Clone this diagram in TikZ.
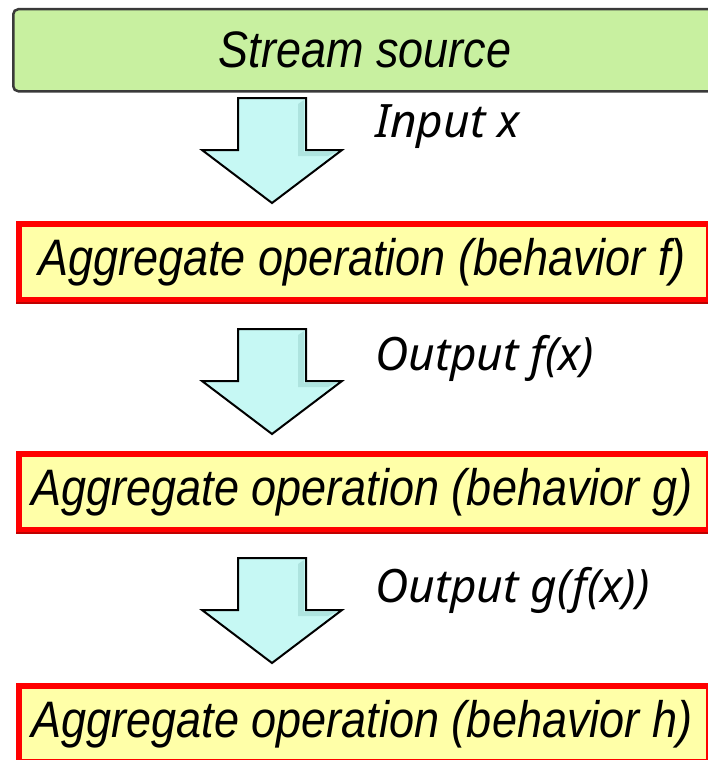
\documentclass[tikz,border=0pt]{standalone}
\usepackage{fontspec}
\setmainfont{Liberation Sans}
\newfontfamily\labelfont{Noto Sans}
\definecolor{srcgreen}{HTML}{C8F0A0}
\definecolor{srcedge}{HTML}{3A3A3A}
\definecolor{opyellow}{HTML}{FFFFA8}
\definecolor{opred}{HTML}{FF0000}
\definecolor{opdark}{HTML}{C00000}
\definecolor{arrowfill}{HTML}{C6F8F4}
\definecolor{arrowshade}{HTML}{9ED8D2}
\begin{document}
\begin{tikzpicture}[x=1pt,y=-1pt,
  srcbox/.style={draw=srcedge,line width=2.5pt,fill=srcgreen,rounded corners=5pt,
    minimum width=700pt,minimum height=82pt,inner sep=0pt,anchor=north west},
  opbox/.style={draw=opred,line width=6pt,fill=opyellow,
    minimum width=690pt,minimum height=76pt,inner sep=0pt,anchor=north west},
  bevel/.style={draw=opdark,line width=2pt},
  boxtext/.style={font=\fontsize{45}{50}\selectfont\itshape},
  lbl/.style={font=\labelfont\fontsize{46}{52}\selectfont\itshape,anchor=west,inner sep=0pt},
  blockarrow/.pic={
    \draw[black,line width=2pt,fill=arrowfill,line join=miter]
      (-34,0) -- (34,0) -- (34,52) -- (70,52) -- (0,105) -- (-70,52) -- (-34,52) -- cycle;
    \fill[arrowshade,opacity=0.6] (26,6) -- (32,2) -- (32,54) -- (64,54) -- (56,58) -- (26,58) -- cycle;
  }]
\useasboundingbox (0,0) rectangle (708,760);
\node[srcbox] (src) at (12,8) {};
\node[boxtext,yscale=1.14] (srct) at (365,50) {Stream source};
\node[opbox] (f) at (16,221) {};
\draw[bevel] (f.south west) -- (f.south east);
\node[boxtext,yscale=1.14] (ft) at (362,262) {Aggregate operation (behavior f)};
\node[opbox] (g) at (16,451) {};
\draw[bevel] (g.south west) -- (g.south east);
\node[boxtext,yscale=1.14] (gt) at (362,492) {Aggregate operation (behavior g)};
\node[opbox] (h) at (16,683) {};
\draw[bevel] (h.south west) -- (h.south east);
\node[boxtext,yscale=1.14] (ht) at (362,724) {Aggregate operation (behavior h)};
\pic at (272,98) {blockarrow};
\pic at (272,329) {blockarrow};
\pic at (272,558) {blockarrow};
\node[lbl] (l1) at (375,127) {Input x};
\node[lbl] (l2) at (375,358) {Output f(x)};
\node[lbl] (l3) at (375,590) {Output g(f(x))};
\end{tikzpicture}
\end{document}
